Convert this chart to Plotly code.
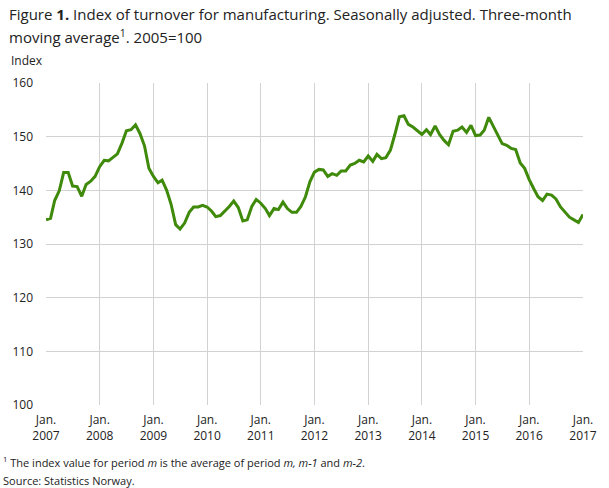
"""
Index of turnover for manufacturing, seasonally adjusted,
three-month moving average (2005=100).
"""

import pandas as pd
import plotly.graph_objects as go

# Monthly periods, Jan 2007 - Jan 2017
months = pd.date_range("2007-01-01", "2017-01-01", freq="MS").strftime("%Y-%m-%d").tolist()

# Index values
index_values = [
    134.5, 134.8, 138.1, 139.9, 143.3, 143.3, 140.8, 140.7, 138.9, 141.1, 141.7, 142.6,  # 2007
    144.4, 145.6, 145.5, 146.1, 146.8, 148.8, 151.1, 151.3, 152.2, 150.6, 148.3, 144.1,  # 2008
    142.6, 141.4, 141.9, 140.0, 137.4, 133.6, 132.8, 133.9, 135.9, 136.9, 136.9, 137.2,  # 2009
    136.9, 136.1, 135.1, 135.3, 136.1, 137.0, 138.0, 136.8, 134.3, 134.5, 137.0, 138.3,  # 2010
    137.6, 136.6, 135.3, 136.6, 136.4, 137.8, 136.6, 135.9, 135.9, 137.0, 138.8, 141.6,  # 2011
    143.4, 143.9, 143.8, 142.6, 143.1, 142.8, 143.6, 143.6, 144.7, 145.0, 145.6, 145.3,  # 2012
    146.4, 145.4, 146.7, 145.9, 146.1, 147.5, 150.4, 153.7, 153.9, 152.3, 151.8, 151.1,  # 2013
    150.4, 151.3, 150.4, 152.0, 150.4, 149.3, 148.5, 151.0, 151.2, 151.8, 150.8, 152.1,  # 2014
    150.2, 150.3, 151.2, 153.6, 152.0, 150.4, 148.7, 148.4, 147.8, 147.6, 145.1, 144.1,  # 2015
    142.0, 140.3, 138.8, 138.1, 139.3, 139.1, 138.4, 136.9, 135.9, 135.0, 134.5, 134.0,  # 2016
    135.5,  # 2017
]

tick_years = list(range(2007, 2018))
tick_vals = [f"{y}-01-01" for y in tick_years]
tick_text = [f"Jan.<br>{y}" for y in tick_years]

FONT = "Open Sans, Noto Sans, sans-serif"
TEXT_COLOR = "#222222"
GRID_COLOR = "#d2d2d2"

fig = go.Figure()

fig.add_trace(go.Scatter(
    x=months,
    y=index_values,
    mode="lines",
    name="Index",
    line=dict(color="#3f8a0a", width=3),
    hovertemplate="%{x|%b %Y}: %{y:.1f}<extra></extra>",
))

fig.update_xaxes(
    type="date",
    range=["2007-01-01", "2017-01-01"],
    tickvals=tick_vals,
    ticktext=tick_text,
    showgrid=True,
    gridcolor=GRID_COLOR,
    gridwidth=1,
    zeroline=False,
    showline=False,
    ticks="",
    ticklabelstandoff=6,
    tickfont=dict(family=FONT, size=12, color=TEXT_COLOR),
)

fig.update_yaxes(
    range=[100, 160],
    dtick=10,
    showgrid=True,
    gridcolor=GRID_COLOR,
    gridwidth=1,
    zeroline=False,
    showline=False,
    ticks="",
    ticklabelstandoff=12,
    tickfont=dict(family=FONT, size=12, color=TEXT_COLOR),
)

# Title lines and notes placed as annotations (paper coordinates)
title_lines = [
    "Figure <b>1.</b> Index of turnover for manufacturing. Seasonally adjusted. Three-month",
    "moving average<sup>1</sup>. 2005=100",
]

annotations = []
for text, y in zip(title_lines, [1.214, 1.143]):
    annotations.append(dict(
        text=text,
        xref="paper", yref="paper",
        x=-0.072, y=y,
        xanchor="left", yanchor="middle",
        showarrow=False,
        font=dict(family=FONT, size=15, color=TEXT_COLOR),
    ))

annotations += [
    dict(
        text="Index",
        xref="paper", yref="paper",
        x=-0.068, y=1.071,
        xanchor="left", yanchor="middle",
        showarrow=False,
        font=dict(family=FONT, size=12, color=TEXT_COLOR),
    ),
    dict(
        text="<sup>1</sup> The index value for period <i>m</i> is the average of period "
             "<i>m, m-1</i> and <i>m-2</i>.",
        xref="paper", yref="paper",
        x=-0.084, y=-0.177,
        xanchor="left", yanchor="middle",
        showarrow=False,
        font=dict(family=FONT, size=11, color=TEXT_COLOR),
    ),
    dict(
        text="Source: Statistics Norway.",
        xref="paper", yref="paper",
        x=-0.084, y=-0.233,
        xanchor="left", yanchor="middle",
        showarrow=False,
        font=dict(family=FONT, size=11, color=TEXT_COLOR),
    ),
]

fig.update_layout(
    width=609,
    height=488,
    margin=dict(l=46, r=23, t=83, b=83),
    paper_bgcolor="white",
    plot_bgcolor="white",
    showlegend=False,
    annotations=annotations,
)

fig.write_html(
    "out.html",
    config={"displayModeBar": False},
    post_script="document.body.style.margin = '0';",
)
